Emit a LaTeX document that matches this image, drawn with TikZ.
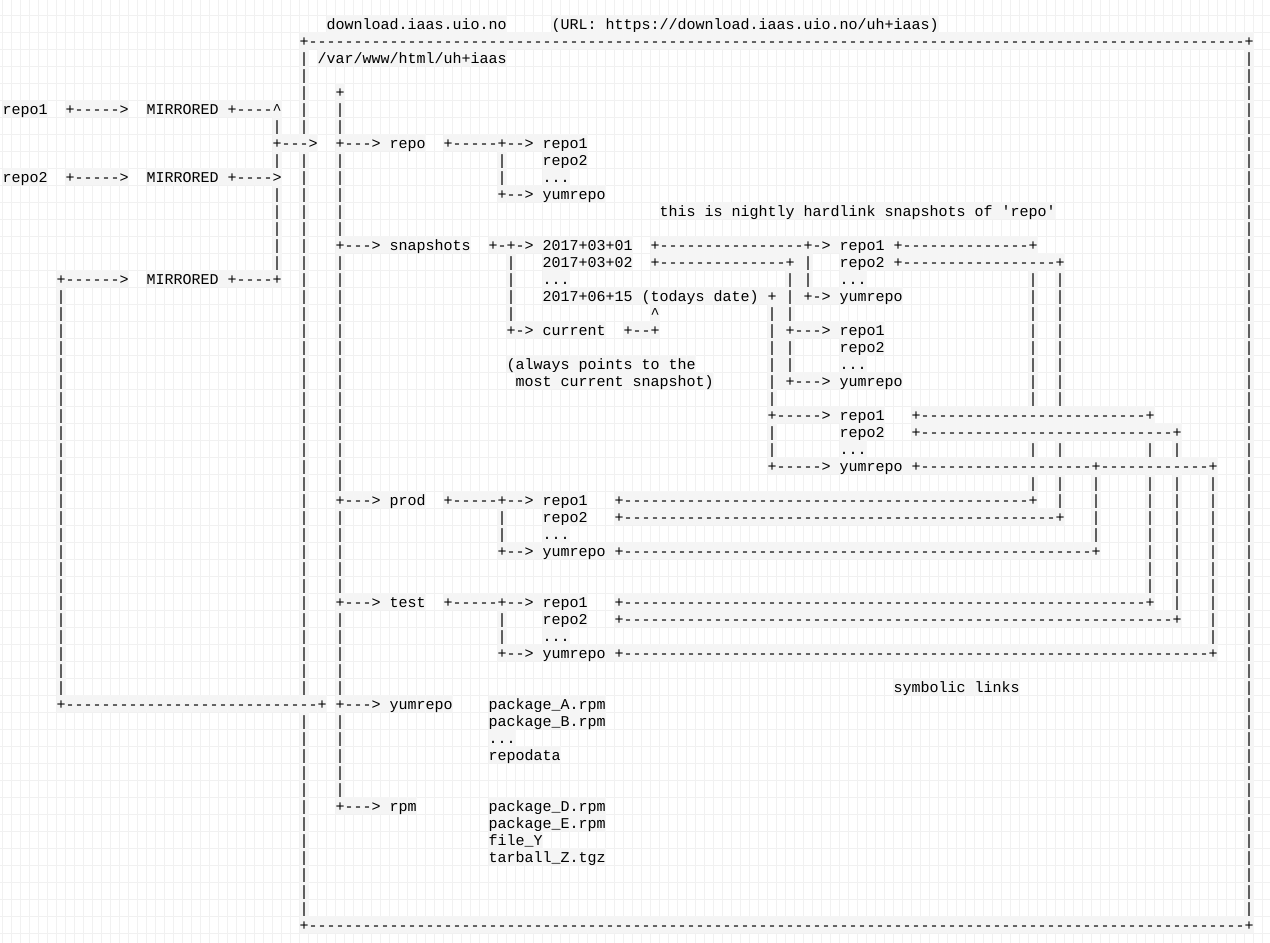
\documentclass[tikz,border=0pt]{standalone}
\usepackage{fontspec}
\setmonofont{Liberation Mono}
\ExplSyntaxOn
\cs_new:Npn \dashrun #1 { \prg_replicate:nn {#1} {-} }
\ExplSyntaxOff
\definecolor{bgc}{HTML}{F5F5F5}
\definecolor{gridc}{HTML}{F1F1F1}
\tikzset{
  seg/.style={anchor=base west, inner sep=0pt, outer sep=0pt,
    text height=14pt, text depth=3pt, fill=bgc, text=black,
    font=\ttfamily\fontsize{15pt}{17pt}\selectfont},
  gridline/.style={draw=gridc, line width=1pt}
}
\newcommand\cellt[3]{\node[seg] (r#1c#2) at ({2.7+9*(#2)},{12+17*(#1)}) {#3};}
\newcommand\vbar[3]{\foreach \rr in {#2,...,#3} {\cellt{\rr}{#1}{|}}}
\begin{document}
\begin{tikzpicture}[x=1pt,y=-1pt]
\useasboundingbox (0,0) rectangle (1270,943);
\fill[white] (0,0) rectangle (1270,943);
% background grid
\foreach \m in {0,...,140} {\draw[gridline] ({2.7+9*\m},0) -- ({2.7+9*\m},943);}
\foreach \k in {1,...,55} {\draw[gridline] (0,{-2+17*\k}) -- (1270,{-2+17*\k});}
% vertical bars
\vbar{33}{3}{7}\vbar{33}{9}{40}\vbar{33}{42}{53}
\vbar{138}{3}{53}
\vbar{37}{6}{7}\vbar{37}{9}{13}\vbar{37}{15}{28}\vbar{37}{30}{34}\vbar{37}{36}{40}\vbar{37}{42}{46}
\cellt{7}{30}{|}\cellt{9}{30}{|}\vbar{30}{11}{15}
\vbar{6}{17}{40}
\vbar{55}{9}{10}\vbar{55}{30}{31}\vbar{55}{36}{37}
\vbar{56}{15}{18}
\vbar{114}{16}{23}\cellt{26}{114}{|}\cellt{28}{114}{|}
\vbar{117}{16}{23}\cellt{26}{117}{|}\vbar{117}{28}{29}
\vbar{121}{28}{31}
\cellt{26}{127}{|}\vbar{127}{28}{34}
\cellt{26}{130}{|}\vbar{130}{28}{35}
\vbar{134}{28}{37}
% rows
\cellt{1}{36}{download.iaas.uio.no}
\cellt{1}{61}{(URL: https://download.iaas.uio.no/uh+iaas)}
\cellt{2}{33}{+\dashrun{104}+}
\cellt{3}{35}{/var/www/html/uh+iaas}
\cellt{5}{37}{+}
\cellt{6}{0}{repo1}
\cellt{6}{7}{+\dashrun{5}>}
\cellt{6}{16}{MIRRORED +\dashrun{4}\textasciicircum}
\cellt{8}{30}{+\dashrun{3}>}
\cellt{8}{37}{+\dashrun{3}> repo}
\cellt{8}{49}{+\dashrun{5}+\dashrun{2}> repo1}
\cellt{9}{60}{repo2}
\cellt{10}{0}{repo2}
\cellt{10}{7}{+\dashrun{5}>}
\cellt{10}{16}{MIRRORED +\dashrun{4}>}
\cellt{10}{60}{...}
\cellt{11}{55}{+\dashrun{2}> yumrepo}
\cellt{12}{73}{this is nightly hardlink snapshots of 'repo'}
\cellt{14}{37}{+\dashrun{3}> snapshots}
\cellt{14}{54}{+-+-> 2017+03+01}
\cellt{14}{72}{+\dashrun{16}+-> repo1 +\dashrun{14}+}
\cellt{15}{60}{2017+03+02}
\cellt{15}{72}{+\dashrun{14}+ |}
\cellt{15}{93}{repo2 +\dashrun{17}+}
\cellt{16}{6}{+\dashrun{6}>}
\cellt{16}{16}{MIRRORED +\dashrun{4}+}
\cellt{16}{60}{...}
\cellt{16}{87}{| |}
\cellt{16}{93}{...}
\cellt{17}{60}{2017+06+15 (todays date) + | +-> yumrepo}
\cellt{18}{72}{\textasciicircum}
\cellt{18}{85}{| |}
\cellt{19}{56}{+-> current}
\cellt{19}{69}{+\dashrun{2}+}
\cellt{19}{85}{| +\dashrun{3}> repo1}
\cellt{20}{85}{| |}
\cellt{20}{93}{repo2}
\cellt{21}{56}{(always points to the}
\cellt{21}{85}{| |}
\cellt{21}{93}{...}
\cellt{22}{57}{most current snapshot)}
\cellt{22}{85}{| +\dashrun{3}> yumrepo}
\cellt{23}{85}{|}
\cellt{24}{85}{+\dashrun{5}> repo1}
\cellt{24}{101}{+\dashrun{25}+}
\cellt{25}{85}{|}
\cellt{25}{93}{repo2}
\cellt{25}{101}{+\dashrun{28}+}
\cellt{26}{85}{|}
\cellt{26}{93}{...}
\cellt{27}{85}{+\dashrun{5}> yumrepo +\dashrun{19}+\dashrun{12}+}
\cellt{29}{37}{+\dashrun{3}> prod}
\cellt{29}{49}{+\dashrun{5}+\dashrun{2}> repo1}
\cellt{29}{68}{+\dashrun{45}+}
\cellt{30}{60}{repo2}
\cellt{30}{68}{+\dashrun{48}+}
\cellt{31}{60}{...}
\cellt{32}{55}{+\dashrun{2}> yumrepo +\dashrun{52}+}
\cellt{35}{37}{+\dashrun{3}> test}
\cellt{35}{49}{+\dashrun{5}+\dashrun{2}> repo1}
\cellt{35}{68}{+\dashrun{58}+}
\cellt{36}{60}{repo2}
\cellt{36}{68}{+\dashrun{61}+}
\cellt{37}{60}{...}
\cellt{38}{55}{+\dashrun{2}> yumrepo +\dashrun{65}+}
\cellt{40}{99}{symbolic links}
\cellt{41}{6}{+\dashrun{28}+}
\cellt{41}{37}{+\dashrun{3}> yumrepo}
\cellt{41}{54}{package\_A.rpm}
\cellt{42}{54}{package\_B.rpm}
\cellt{43}{54}{...}
\cellt{44}{54}{repodata}
\cellt{47}{37}{+\dashrun{3}> rpm}
\cellt{47}{54}{package\_D.rpm}
\cellt{48}{54}{package\_E.rpm}
\cellt{49}{54}{file\_Y}
\cellt{50}{54}{tarball\_Z.tgz}
\cellt{54}{33}{+\dashrun{104}+}
\end{tikzpicture}
\end{document}
